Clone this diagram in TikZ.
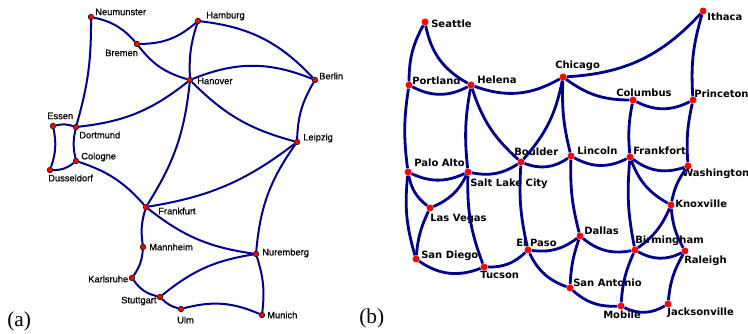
\documentclass[tikz,border=0pt]{standalone}
\usepackage{fontspec}
\setmainfont{Liberation Serif}
\newfontfamily\desans[FakeBold=0.6]{Liberation Sans}
\newfontfamily\ussans{DejaVu Sans}
\usepackage{xcolor}
\usepackage{tikz}
\definecolor{roadblue}{RGB}{0,0,140}

\begin{document}
\begin{tikzpicture}[x=0.75pt, y=-0.75pt,
    dcity/.style={circle, draw=black, line width=0.4pt, fill=red, inner sep=0pt, minimum size=4.2pt},
    ucity/.style={circle, fill=red, inner sep=0pt, minimum size=5.2pt},
    dlbl/.style={inner sep=0pt, font=\desans\fontsize{7}{8}\selectfont},
    ulbl/.style={inner sep=0pt, font=\ussans\bfseries\fontsize{7.5}{9}\selectfont},
    dlink/.style={draw=roadblue, line width=1.5pt},
    ulink/.style={draw=roadblue, line width=2.1pt},
    tag/.style={inner sep=0pt, font=\fontsize{16}{18}\selectfont}]
  \useasboundingbox (0,0) rectangle (748,334);

  % (a) germany
  \foreach \nm/\x/\y/\dx/\dy/\txt in {neumunster/91/17/4/-5/Neumunster, bremen/137/44/-32/9/Bremen,
      hamburg/198/21/8/-5/Hamburg, hanover/190/80/7/1/Hanover, berlin/315/80/4/-4/Berlin,
      leipzig/297/142/6/-4/Leipzig, essen/53/126/-6/-10/Essen, dortmund/76/127/3/8/Dortmund,
      cologne/76/161/5/-4/Cologne, dusseldorf/50/170/-2/8/Dusseldorf, frankfurt/146/207/12/4/Frankfurt,
      mannheim/143/247/6/0/Mannheim, karlsruhe/132/278/-44/1/Karlsruhe, stuttgart/160/297/-39/4/Stuttgart,
      ulm/181/309/-4/11/Ulm, nuremberg/256/254/6/-1/Nuremberg, munich/262/315/5/0/Munich}{%
    \node[dcity] (\nm) at (\x,\y) {};
    \node[dlbl, anchor=west] (\nm-l) at ([shift={(\dx,\dy)}]\nm) {\txt};
  }
  \foreach \p/\q/\b in {neumunster/bremen/18, neumunster/dortmund/8, bremen/hamburg/-20,
      bremen/hanover/-18, hamburg/hanover/-10, hamburg/berlin/20, hanover/berlin/22,
      hanover/leipzig/-15, dortmund/hanover/-16, hanover/frankfurt/13, berlin/leipzig/-14,
      frankfurt/leipzig/-14, leipzig/nuremberg/-15, essen/dortmund/15, essen/dusseldorf/15,
      dortmund/cologne/-12, cologne/dusseldorf/20, cologne/frankfurt/15, frankfurt/mannheim/-12,
      frankfurt/nuremberg/-15, mannheim/karlsruhe/15, karlsruhe/stuttgart/-20,
      stuttgart/nuremberg/15, stuttgart/ulm/-15, ulm/munich/19, nuremberg/munich/12}
    \draw[dlink] (\p) to[bend left=\b] (\q);

  % (b) usnet
  \foreach \nm/\x/\y/\dx/\dy/\txt in {seattle/425/22/6/2/Seattle, portland/409/85/3/-4/Portland,
      helena/471/85/6/-5/Helena, chicago/563/77/-8/-11/Chicago, ithaca/703/11/4/6/Ithaca,
      columbus/633/100/-17/-7/Columbus, princeton/693/100/1/-6/Princeton,
      paloalto/408/172/6/-9/Palo Alto, saltlake/468/172/2/12/Salt Lake City,
      boulder/521/162/-7/-10/Boulder, lincoln/571/156/6/-5/Lincoln, frankfort/630/157/3/-6/Frankfort,
      washington/688/166/-6/8/Washington, lasvegas/430/208/0/11/Las Vegas,
      knoxville/671/205/4/-1/Knoxville, sandiego/416/259/5/-3/San Diego, tucson/484/267/-4/8/Tucson,
      elpaso/528/250/-12/-7/El Paso, dallas/580/236/4/-5/Dallas, birmingham/635/250/0/-9/Birmingham,
      raleigh/685/251/-1/10/Raleigh, sanantonio/570/288/3/-5/San Antonio, mobile/621/306/-18/9/Mobile,
      jacksonville/668/304/-1/9/Jacksonville}{%
    \node[ucity] (\nm) at (\x,\y) {};
    \node[ulbl, anchor=west] (\nm-l) at ([shift={(\dx,\dy)}]\nm) {\txt};
  }
  \foreach \p/\q/\b in {seattle/portland/14, seattle/helena/25, portland/helena/28,
      portland/paloalto/8, helena/chicago/25, helena/saltlake/8, helena/boulder/15,
      boulder/chicago/15, chicago/lincoln/8, chicago/columbus/18, chicago/ithaca/22,
      ithaca/princeton/10, columbus/princeton/27, columbus/frankfort/8, princeton/washington/8,
      paloalto/saltlake/25, paloalto/lasvegas/20, paloalto/sandiego/11, lasvegas/saltlake/20,
      saltlake/boulder/22, saltlake/tucson/11, lasvegas/sandiego/10, sandiego/tucson/28,
      tucson/elpaso/22, boulder/lincoln/28, boulder/elpaso/8, lincoln/frankfort/28,
      lincoln/dallas/8, frankfort/washington/28, frankfort/knoxville/20, frankfort/birmingham/8,
      washington/knoxville/12, birmingham/knoxville/15, knoxville/raleigh/12, elpaso/dallas/22,
      elpaso/sanantonio/22, dallas/birmingham/25, dallas/sanantonio/8, birmingham/raleigh/28,
      birmingham/mobile/10, sanantonio/mobile/22, mobile/jacksonville/28, raleigh/jacksonville/12}
    \draw[ulink] (\p) to[bend right=\b] (\q);

  \node[tag, anchor=west] (tag-a) at (7,321) {(a)};
  \node[tag, anchor=west] (tag-b) at (359,318) {(b)};
\end{tikzpicture}
\end{document}
